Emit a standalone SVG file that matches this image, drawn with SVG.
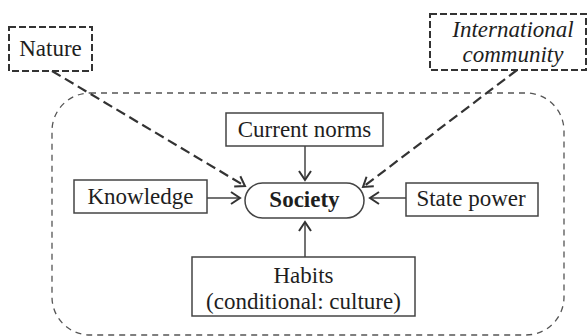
<svg xmlns="http://www.w3.org/2000/svg" width="587" height="336" viewBox="0 0 587 336">
<defs>
<style>
.box{fill:#fff;stroke:#444;stroke-width:1.5}
.dbox{fill:#fff;stroke:#333;stroke-width:2;stroke-dasharray:7 3}
.t{font-family:"Liberation Serif","Times New Roman",serif;font-size:23px;fill:#1e1e1e;text-anchor:middle}
.conn{fill:none;stroke:#444;stroke-width:1.5}
.dconn{fill:none;stroke:#333;stroke-width:2.2;stroke-dasharray:10 5}
</style>
<marker id="arr" markerUnits="userSpaceOnUse" markerWidth="14" markerHeight="16" viewBox="0 0 14 16" refX="11" refY="8" orient="auto">
<path d="M2,2 L11,8 L2,14" fill="none" stroke="#333" stroke-width="2" stroke-dasharray="none"/>
</marker>
</defs>
<rect width="587" height="336" fill="#fff"/>
<rect id="boundary" x="52" y="93" width="512" height="242" rx="38" fill="none" stroke="#555" stroke-width="1.3" stroke-dasharray="6 5"/>
<g id="connectors">
<line class="conn" x1="305" y1="146" x2="305" y2="180" marker-end="url(#arr)"/>
<line class="conn" x1="207" y1="198" x2="240" y2="198" marker-end="url(#arr)"/>
<line class="conn" x1="406" y1="198" x2="370" y2="198" marker-end="url(#arr)"/>
<line class="conn" x1="305" y1="257" x2="305" y2="222" marker-end="url(#arr)"/>
<line class="dconn" x1="52" y1="71" x2="245" y2="186" marker-end="url(#arr)"/>
<line class="dconn" x1="517" y1="70" x2="363" y2="187" marker-end="url(#arr)"/>
</g>
<g id="nature">
<rect class="dbox" x="9" y="27" width="83" height="44"/>
<text class="t" x="50.5" y="56">Nature</text>
</g>
<g id="international">
<rect class="dbox" x="430" y="14" width="156" height="56"/>
<text class="t" x="513" y="37" font-style="italic">International</text>
<text class="t" x="513" y="62" font-style="italic">community</text>
</g>
<g id="current-norms">
<rect class="box" x="226" y="113" width="157" height="33"/>
<text class="t" x="304.5" y="137">Current norms</text>
</g>
<g id="society">
<rect class="box" x="245" y="183" width="119" height="35" rx="17.5"/>
<text class="t" x="304.5" y="207" font-weight="bold">Society</text>
</g>
<g id="knowledge">
<rect class="box" x="74" y="180" width="133" height="33"/>
<text class="t" x="140.5" y="204">Knowledge</text>
</g>
<g id="state-power">
<rect class="box" x="406" y="183" width="132" height="33"/>
<text class="t" x="471" y="206">State power</text>
</g>
<g id="habits">
<rect class="box" x="192" y="257" width="223" height="59"/>
<text class="t" x="303.5" y="283">Habits</text>
<text class="t" x="303.5" y="309">(conditional: culture)</text>
</g>
</svg>
